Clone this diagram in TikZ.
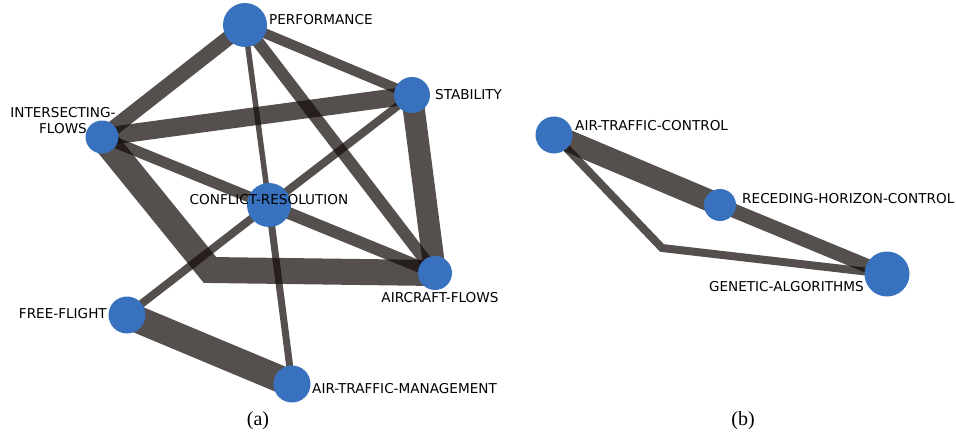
\documentclass[tikz,border=0pt]{standalone}
\usepackage{fontspec}
\setsansfont{DejaVu Sans}
\newfontfamily\capfont{Liberation Serif}
\pgfdeclarelayer{bg}
\pgfsetlayers{bg,main}
\definecolor{nodeblue}{RGB}{56,114,190}
\definecolor{edgedark}{RGB}{20,12,10}
\tikzset{
  vert/.style={circle, fill=nodeblue, draw=none, inner sep=0pt, minimum size=#1},
  link/.style={draw=edgedark, draw opacity=0.72, line width=#1, line cap=butt},
  lbl/.style={inner sep=0pt, font=\sffamily\fontsize{13.6}{16}\selectfont, text=black},
  captxt/.style={inner sep=0pt, font=\capfont\fontsize{20}{22}\selectfont}
}
\begin{document}
\begin{tikzpicture}[x=1pt,y=-1pt]
\useasboundingbox (0,0) rectangle (956,436);
% ---- (a) nodes
\node[vert=44pt] (perf) at (245,25) {};
\node[vert=36pt] (stab) at (412,95) {};
\node[vert=33pt] (intf) at (102,137) {};
\node[vert=44pt] (conf) at (269,205) {};
\node[vert=34pt] (af) at (435,273) {};
\node[vert=37pt] (ff) at (127,315) {};
\node[vert=37pt] (atm) at (292,384) {};
\coordinate (bendA) at (210,270);
% ---- (b) nodes
\node[vert=37pt] (atc) at (554,135) {};
\node[vert=32pt] (rhc) at (720,205) {};
\node[vert=45pt] (ga) at (887,274) {};
\coordinate (bendB) at (662,248);
% ---- edges
\begin{pgfonlayer}{bg}
\draw[link=15pt] (perf.center) -- (intf.center);
\draw[link=10pt] (perf.center) -- (stab.center);
\draw[link=5.5pt] (perf.center) -- (conf.center);
\draw[link=12pt] (perf.center) -- (af.center);
\draw[link=18pt] (intf.center) -- (stab.center);
\draw[link=8pt] (stab.center) -- (conf.center);
\draw[link=22pt] (stab.center) -- (af.center);
\draw[link=11pt] (intf.center) -- (conf.center);
\draw[link=26pt] (intf.center) -- (bendA) -- (af.center);
\draw[link=12pt] (conf.center) -- (af.center);
\draw[link=8pt] (conf.center) -- (ff.center);
\draw[link=7pt] (conf.center) -- (atm.center);
\draw[link=27pt] (ff.center) -- (atm.center);
\draw[link=22pt] (atc.center) -- (rhc.center);
\draw[link=14pt] (rhc.center) -- (ga.center);
\draw[link=8pt] (atc.center) -- (bendB) -- (ga.center);
\end{pgfonlayer}
% ---- labels
\node[lbl, anchor=west] (lperf) at (269,20) {PERFORMANCE};
\node[lbl, anchor=west] (lstab) at (435,95) {STABILITY};
\node[lbl, align=center] (lintf) at (63,121) {INTERSECTING-\\FLOWS};
\node[lbl] (lconf) at (269,200) {CONFLICT-RESOLUTION};
\node[lbl] (laf) at (440,298) {AIRCRAFT-FLOWS};
\node[lbl, anchor=east] (lff) at (107,314) {FREE-FLIGHT};
\node[lbl, anchor=west] (latm) at (312,389) {AIR-TRAFFIC-MANAGEMENT};
\node[lbl, anchor=west] (latc) at (575,126) {AIR-TRAFFIC-CONTROL};
\node[lbl, anchor=west] (lrhc) at (742,199) {RECEDING-HORIZON-CONTROL};
\node[lbl, anchor=east] (lga) at (864,287) {GENETIC-ALGORITHMS};
\node[captxt] (capa) at (258,421) {(a)};
\node[captxt] (capb) at (743,421) {(b)};
\end{tikzpicture}
\end{document}
